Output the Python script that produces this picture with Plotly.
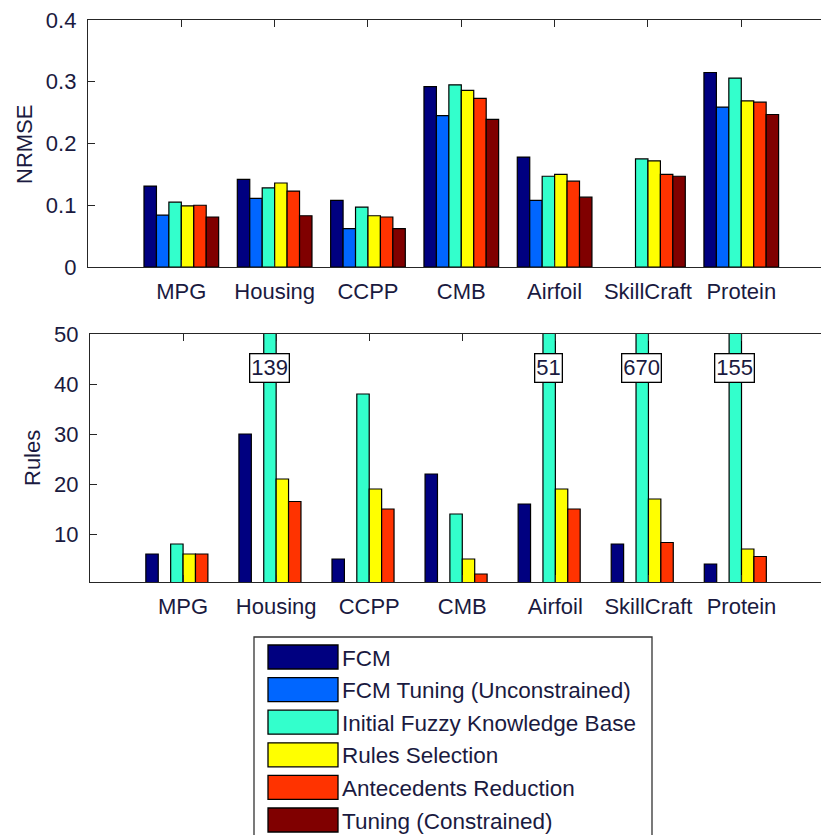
import plotly.graph_objects as go

datasets = ["MPG", "Housing", "CCPP", "CMB", "Airfoil", "SkillCraft", "Protein"]
series_names = ["FCM", "FCM Tuning (Unconstrained)", "Initial Fuzzy Knowledge Base",
                "Rules Selection", "Antecedents Reduction", "Tuning (Constrained)"]
colors = ["#000080", "#0066FF", "#33FFCC", "#FFFF00", "#FF3300", "#800000"]

# NRMSE values (None = not available)
nrmse_fcm = [0.131, 0.142, 0.108, 0.292, 0.178, None, 0.315]
nrmse_fcm_tuning = [0.084, 0.111, 0.062, 0.245, 0.108, None, 0.259]
nrmse_ifkb = [0.105, 0.128, 0.097, 0.295, 0.147, 0.175, 0.306]
nrmse_rules_sel = [0.099, 0.136, 0.083, 0.286, 0.150, 0.172, 0.269]
nrmse_ant_red = [0.100, 0.123, 0.081, 0.273, 0.139, 0.150, 0.267]
nrmse_tuning = [0.081, 0.083, 0.062, 0.239, 0.113, 0.147, 0.247]

# Number of rules
rules_fcm = [6, 30, 5, 22, 16, 8, 4]
rules_fcm_tuning = [0, 0, 0, 0, 0, 0, 0]
rules_ifkb = [8, 139, 38, 14, 51, 670, 155]
rules_rules_sel = [6, 21, 19, 5, 19, 17, 7]
rules_ant_red = [6, 16.5, 15, 2, 15, 8.3, 5.5]
rules_tuning = [0, 0, 0, 0, 0, 0, 0]

nrmse_series = [nrmse_fcm, nrmse_fcm_tuning, nrmse_ifkb, nrmse_rules_sel, nrmse_ant_red, nrmse_tuning]
rules_series = [rules_fcm, rules_fcm_tuning, rules_ifkb, rules_rules_sel, rules_ant_red, rules_tuning]

rules_ymax = 50
x_pos = list(range(1, len(datasets) + 1))

# page has an 8px body margin; figure sized to fill the rest of the window
OFF = 8
W, H = 829 - OFF, 835 - OFF
FONT = "Liberation Sans, Arial, sans-serif"
FS = 22
TXT = "#1a1a40"

fig = go.Figure()
for i, name in enumerate(series_names):
    fig.add_trace(go.Bar(x=x_pos, y=nrmse_series[i], name=name, marker_color=colors[i],
                         marker_line=dict(color="black", width=1.2), showlegend=False,
                         xaxis="x", yaxis="y"))
for i, name in enumerate(series_names):
    fig.add_trace(go.Bar(x=x_pos, y=rules_series[i], name=name, marker_color=colors[i],
                         marker_line=dict(color="black", width=1.2), showlegend=False,
                         xaxis="x2", yaxis="y2"))

def px_x(p):
    return (p - OFF) / W

def px_y(p):
    return 1 - (p - OFF) / H

axis_common = dict(showline=True, linecolor="#262626", linewidth=1.3, ticks="inside",
                   ticklen=7, tickwidth=1.3, tickcolor="#262626", showgrid=False, zeroline=False,
                   automargin=False, ticklabeloverflow="allow",
                   tickfont=dict(family=FONT, size=FS, color=TXT))

xrng = [0, 7.94]
fig.update_layout(
    width=W, height=H, margin=dict(l=0, r=0, t=0, b=0, pad=0),
    plot_bgcolor="white", paper_bgcolor="white",
    barmode="group", bargap=0.2, bargroupgap=0,
    xaxis=dict(domain=[px_x(88), 1.0], range=xrng, tickvals=x_pos, ticktext=datasets,
               mirror="allticks", anchor="y", ticklabelstandoff=4, **axis_common),
    yaxis=dict(domain=[px_y(267), px_y(20)], range=[0, 0.4], tickvals=[0, 0.1, 0.2, 0.3, 0.4],
               ticktext=["0", "0.1", "0.2", "0.3", "0.4"], anchor="x", ticklabelstandoff=6,
               **axis_common),
    xaxis2=dict(domain=[px_x(90), 1.0], range=xrng, tickvals=x_pos, ticktext=datasets,
                mirror="allticks", anchor="y2", ticklabelstandoff=4, **axis_common),
    yaxis2=dict(domain=[px_y(582), px_y(334)], range=[0.4, rules_ymax], tickvals=[10, 20, 30, 40, 50],
                anchor="x2", ticklabelstandoff=6, **axis_common),
)

annotations = []
# axis titles
annotations.append(dict(text="NRMSE", x=px_x(24), y=px_y(145), xref="paper", yref="paper",
                        xanchor="center", yanchor="middle",
                        textangle=-90, showarrow=False, font=dict(family=FONT, size=FS, color=TXT)))
annotations.append(dict(text="Rules", x=px_x(32), y=px_y(458), xref="paper", yref="paper",
                        xanchor="center", yanchor="middle",
                        textangle=-90, showarrow=False, font=dict(family=FONT, size=FS, color=TXT)))

# value labels for clipped bars
n_series = len(series_names)
bar_w = 0.8 / n_series
ifkb_idx = 2
offset = -0.4 + (ifkb_idx + 0.5) * bar_w
for j, v in enumerate(rules_ifkb):
    if v > rules_ymax:
        annotations.append(dict(text=str(v), x=x_pos[j] + offset - 0.01, y=43.3, xref="x2", yref="y2",
                                showarrow=False, bgcolor="white", bordercolor="black", borderwidth=1.3,
                                borderpad=1, font=dict(family=FONT, size=FS, color=TXT)))

# manual legend
shapes = [dict(type="rect", xref="paper", yref="paper", x0=px_x(254), x1=px_x(652),
               y0=px_y(850), y1=px_y(637), line=dict(color="#333333", width=1.3), fillcolor="white",
               layer="above")]
row0, dy = 657, 32.6
for i, name in enumerate(series_names):
    cy = row0 + i * dy
    shapes.append(dict(type="rect", xref="paper", yref="paper", x0=px_x(268), x1=px_x(338),
                       y0=px_y(cy + 12), y1=px_y(cy - 12), fillcolor=colors[i],
                       line=dict(color="black", width=1.3), layer="above"))
    annotations.append(dict(text=name, x=px_x(341), y=px_y(cy + 1), xref="paper", yref="paper",
                            xanchor="left", yanchor="middle", showarrow=False, borderpad=0,
                            font=dict(family=FONT, size=22.5, color=TXT)))

fig.update_layout(annotations=annotations, shapes=shapes)
fig.write_html("out.html")
